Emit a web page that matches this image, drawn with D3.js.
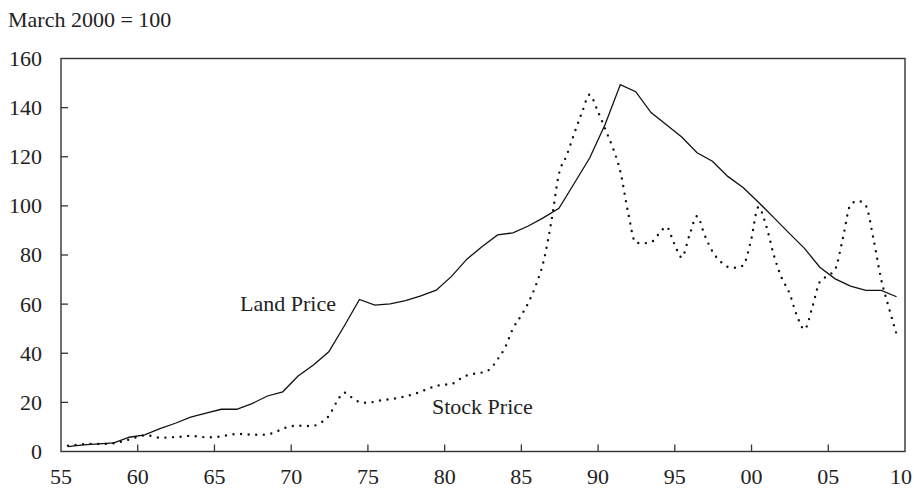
<!DOCTYPE html>
<html>
<head>
<meta charset="utf-8">
<script src="https://cdn.jsdelivr.net/npm/d3@7"></script>
<style>
  body { margin: 0; background: #fff; }
  svg text { font-family: "Liberation Serif", "DejaVu Serif", serif; fill: #222; }
</style>
</head>
<body>
<svg id="chart" width="914" height="489"></svg>
<script>
// annual land price index (March), 1955-2009
let landYears = [1955,1956,1957,1958,1959,1960,1961,1962,1963,1964,1965,1966,1967,1968,1969,
                 1970,1971,1972,1973,1974,1975,1976,1977,1978,1979,1980,1981,1982,1983,1984,
                 1985,1986,1987,1988,1989,1990,1991,1992,1993,1994,1995,1996,1997,1998,1999,
                 2000,2001,2002,2003,2004,2005,2006,2007,2008,2009];
let landValues = [2.0,2.7,3.1,3.5,5.8,6.8,9.3,11.5,14.0,15.6,17.2,17.2,19.5,22.6,24.3,
                  30.7,35.2,40.6,51.0,61.9,59.6,60.1,61.4,63.4,65.7,71.3,78.3,83.5,88.2,89.0,
                  91.8,95.2,99.0,109.2,119.5,133.0,149.4,146.5,138.0,133.0,128.0,121.6,118.2,112.0,107.5,
                  101.5,95.2,88.9,82.7,75.0,70.3,67.3,65.6,65.6,63.0];

// stock price index, first half (March) and second half (September) of each year
let stockH1 = [2.4,3.0,3.1,3.4,4.9,6.5,5.6,5.9,6.4,5.8,6.2,7.1,6.8,7.0,9.3,
               10.5,10.5,14.5,24.0,20.2,20.3,21.3,22.5,24.4,26.7,27.5,31.0,32.2,37.5,50.0,
               60.5,77.5,113.0,129.5,145.3,131.5,114.0,85.0,85.2,91.5,79.0,95.8,81.5,75.2,75.8,
               99.5,80.0,64.8,49.7,69.1,74.2,100.5,100.0,70.0,47.8];
let stockH2 = [2.7,3.1,3.1,4.0,5.9,6.3,5.7,6.1,6.1,5.8,6.7,7.1,6.8,7.8,10.2,
               10.4,11.8,20.0,22.0,19.8,21.0,21.8,23.3,25.6,27.2,29.4,31.7,33.5,42.5,55.0,
               67.8,93.5,120.5,138.0,139.0,123.8,97.5,84.8,88.5,84.8,88.0,88.0,77.5,74.8,85.5,
               92.0,70.9,55.5,58.5,71.5,86.8,102.0,86.4,58.5,null];

let xTicks = [1955,1960,1965,1970,1975,1980,1985,1990,1995,2000,2005,2010];
let yTicks = [0,20,40,60,80,100,120,140,160];

let svg = d3.select("#chart");
let margin = {"left":61,"right":9,"top":58.5,"bottom":37.5};
let W = 914, H = 489;
let fsize = "22px";

let xscale = d3.scaleLinear().domain([1955,2010]).range([margin.left, W - margin.right]);
let yscale = d3.scaleLinear().domain([0,160]).range([H - margin.bottom, margin.top]);

let land = landYears.map((y,i) => ({"t": y + 0.45, "v": landValues[i]}));
let stock = [];
landYears.forEach((y,i) => {
    stock.push({"t": y + 0.45, "v": stockH1[i]});
    if (stockH2[i] != null) stock.push({"t": y + 0.95, "v": stockH2[i]});
});

// title
svg.append("text")
    .attr("x",8)
    .attr("y",27)
    .text("March 2000 = 100")
    .style("font-size",fsize);

// frame
svg.append("rect")
    .attr("x",xscale(1955))
    .attr("y",yscale(160))
    .attr("width",xscale(2010) - xscale(1955))
    .attr("height",yscale(0) - yscale(160))
    .style("fill","none")
    .style("stroke","#333")
    .style("stroke-width",1.4);

// y ticks, pointing inward
svg.selectAll(".yti")
    .data(yTicks.filter(d => d > 0 && d < 160))
    .enter()
    .append("line")
    .attr("class","yti")
    .attr("x1",xscale(1955))
    .attr("x2",xscale(1955) + 7)
    .attr("y1",d => yscale(d))
    .attr("y2",d => yscale(d))
    .style("stroke","#333")
    .style("stroke-width",1.3);

svg.selectAll(".ylab")
    .data(yTicks)
    .enter()
    .append("text")
    .attr("class","ylab")
    .attr("x",42)
    .attr("y",d => yscale(d))
    .attr("dy","0.34em")
    .text(d => d)
    .style("text-anchor","end")
    .style("font-size",fsize);

// x ticks, pointing inward
svg.selectAll(".xti")
    .data(xTicks.filter(d => d > 1955 && d < 2010))
    .enter()
    .append("line")
    .attr("class","xti")
    .attr("x1",d => xscale(d))
    .attr("x2",d => xscale(d))
    .attr("y1",yscale(0))
    .attr("y2",yscale(0) - 7)
    .style("stroke","#333")
    .style("stroke-width",1.3);

svg.selectAll(".xlab")
    .data(xTicks)
    .enter()
    .append("text")
    .attr("class","xlab")
    .attr("x",d => xscale(d))
    .attr("y",484)
    .text(d => String(d).slice(2))
    .style("text-anchor","middle")
    .style("font-size",fsize)
    .each(function(d) {
        let half = this.getComputedTextLength() / 2;
        let x = xscale(d);
        if (x + half > W - 2) d3.select(this).attr("x", W - 2 - half);
    });

// series
let linea = d3.line()
    .x(d => xscale(d.t))
    .y(d => yscale(d.v));

svg.append("path")
    .datum(land)
    .attr("d",linea)
    .style("fill","none")
    .style("stroke","#111")
    .style("stroke-width",1.3);

svg.append("path")
    .datum(stock)
    .attr("d",linea.curve(d3.curveMonotoneX))
    .style("fill","none")
    .style("stroke","#111")
    .style("stroke-width",2.4)
    .style("stroke-linecap","round")
    .style("stroke-dasharray","0 7.6");

// series labels
svg.append("text")
    .attr("x",240)
    .attr("y",311)
    .text("Land Price")
    .style("font-size",fsize);

svg.append("text")
    .attr("x",432)
    .attr("y",414)
    .text("Stock Price")
    .style("font-size",fsize);
</script>
</body>
</html>
